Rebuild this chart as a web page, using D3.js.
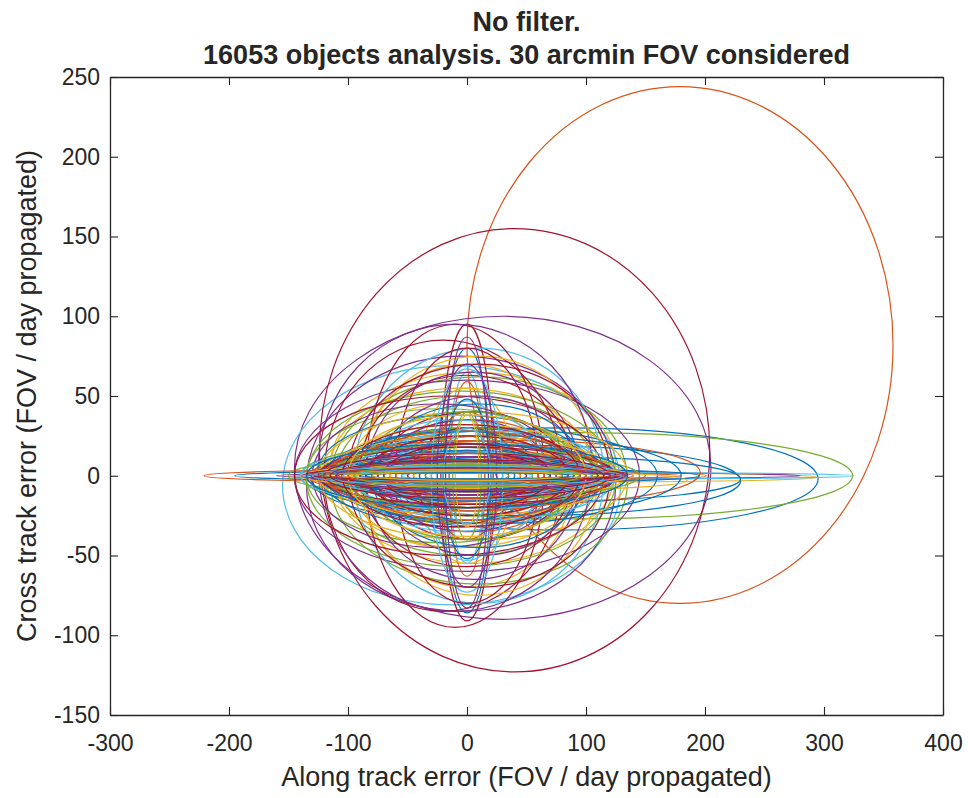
<!DOCTYPE html>
<html>
<head>
<meta charset="utf-8">
<script src="https://cdn.jsdelivr.net/npm/d3@7/dist/d3.min.js"></script>
<style>
  html, body { margin: 0; padding: 0; background: #fff; }
  svg { display: block; }
  text { font-family: "Liberation Sans", Arial, Helvetica, sans-serif; fill: #262626; }
</style>
</head>
<body>
<svg id="chart" width="968" height="798"></svg>
<script>
// ---- data (error ellipses: centre x/y, semi-axis x/y, in FOV/day units) ----
const titleLines = ["No filter.", "16053 objects analysis. 30 arcmin FOV considered"];
const xLabel = "Along track error (FOV / day propagated)";
const yLabel = "Cross track error (FOV / day propagated)";
const xTicks = [-300, -200, -100, 0, 100, 200, 300, 400];
const yTicks = [-150, -100, -50, 0, 50, 100, 150, 200, 250];

const ellCx = [
  82, 179, 5, 30, 92, -13, 40,
  50, -10, 70, 60, 0, 90, 0,
  0, 43, 0, -5, 10, 0, -20,
  60, 0, -5, 0, -20, 10, -10,
  -30, 5, 10, -10, -5, 20, 0,
  20, 0, -15, 5, 0, 0, 10,
  -10, -5, 0, -25, 15, -20, 0,
  30, 10, 5, 0, -10, 5, -15,
  0, -5, 0, 10, 0, 0, 5,
  -20, 0, 15, 0, 5, 0, 0,
  10, 20, -10, 0, 0, -10, 0,
  0, 0, 0, -15, 0, 15, 10,
  0, -10, 0, 5, 0, 0, -5,
  0, 0, 0, 0, -5, 0, 0,
  0, 0, 5, 0, 0, 0, 0,
  55, 0, 0, 0, 10, 0, 0,
  0, 30, 0, 0, 0, 0, 15,
  -5, 0, 35, 0, 0, 0, 0,
  0, -10, 0, 0, 10, 0, 0,
  -5, 0, 5, 0, 0, 0, 0,
  0, 0, 0, 5, 0, 10, 0,
  0, 0, 0, 0, 0, 0, -5,
  0, 5, 0, 0, 0, 0, 0,
  0, 0, 0, 0, 0, 0, 0,
  0, 0, 5, 0, -5, 0, 0,
  0, 0, 0, 0, 0, 0, 0
];
const ellCy = [
  -2, 82, 5, 5, 0, -6, 16,
  -3, 0, -1, 0, 0, 0, 2,
  -3, 2, 0, -5, -3, 5, 0,
  -2, -2, 5, 0, 0, 0, 0,
  0, 0, 0, 5, -2, 0, 0,
  0, 0, 0, 0, 3, -3, 0,
  3, 0, 0, 0, 0, 0, 3,
  0, 0, 0, 0, 0, 0, 0,
  0, 0, 0, 0, 0, 0, 0,
  0, 0, 0, 0, 0, 0, 0,
  0, 0, 0, 0, 0, 0, 0,
  0, 0, 0, 0, 0, 0, 0,
  0, 0, 0, 0, 0, 0, 0,
  0, 0, 2, 0, 0, 0, 0,
  0, 0, 0, 0, 0, 0, 0,
  0, 0, 0, 0, 0, 0, 0,
  0, 0, 0, 0, 0, 0, 0,
  0, 0, -3, 0, 0, 0, 0,
  0, 0, 0, 0, 0, 0, 0,
  0, 0, 0, 0, 0, 0, 0,
  0, 0, 0, 0, 0, 0, 0,
  0, 0, 0, 0, 0, 0, 0,
  -2, 0, 3, 0, 0, -3, 0,
  0, 0, 0, 2, 0, 0, 0,
  0, 1, 0, -1, 0, 0, 1,
  0, 0, 0, 0, 0, 0, 0
];
const ellRx = [
  213, 179, 120, 175, 232, 142, 164,
  180, 211, 225, 220, 110, 235, 22,
  20, 153, 90, 130, 125, 15, 100,
  170, 15, 110, 145, 115, 105, 75,
  165, 80, 100, 115, 130, 95, 60,
  140, 120, 85, 90, 95, 35, 110,
  115, 100, 40, 105, 85, 120, 90,
  150, 70, 130, 100, 140, 65, 130,
  125, 95, 55, 85, 60, 100, 80,
  110, 50, 120, 70, 105, 25, 115,
  90, 130, 100, 120, 75, 80, 45,
  70, 30, 85, 95, 40, 110, 100,
  60, 125, 65, 55, 90, 50, 70,
  100, 45, 110, 35, 120, 75, 130,
  40, 85, 75, 105, 55, 30, 95,
  140, 65, 95, 60, 80, 120, 50,
  115, 150, 45, 80, 35, 90, 120,
  75, 110, 150, 140, 100, 55, 105,
  130, 110, 125, 115, 135, 100, 125,
  105, 90, 70, 130, 115, 85, 110,
  95, 120, 60, 95, 70, 125, 85,
  80, 100, 140, 75, 95, 115, 100,
  20, 105, 10, 25, 12, 30, 120,
  135, 60, 100, 18, 110, 20, 70,
  120, 130, 110, 125, 115, 105, 135,
  90, 100, 80, 110, 95, 130, 115
];
const ellRy = [
  32, 162, 60, 95, 27, 75, 139,
  22, 4, 3, 2, 50, 2, 93,
  83, 20, 70, 80, 65, 60, 85,
  14, 61, 50, 60, 42, 80, 95,
  3, 35, 75, 90, 55, 30, 80,
  30, 8, 45, 65, 25, 50, 70,
  35, 15, 55, 45, 20, 18, 60,
  25, 25, 40, 30, 12, 40, 50,
  20, 10, 30, 50, 15, 12, 40,
  10, 20, 15, 35, 30, 25, 20,
  45, 6, 22, 25, 10, 35, 30,
  18, 40, 12, 15, 8, 28, 10,
  28, 12, 6, 22, 40, 10, 15,
  5, 12, 30, 16, 4, 20, 8,
  15, 3, 18, 6, 25, 6, 5,
  4, 9, 4, 10, 6, 3, 5,
  7, 2, 4, 3, 4, 8, 3,
  4, 5, 6, 4, 7, 3, 12,
  10, 18, 25, 8, 14, 22, 18,
  28, 6, 10, 12, 20, 15, 6,
  16, 22, 8, 20, 5, 9, 25,
  9, 28, 7, 12, 3, 14, 32,
  50, 4, 35, 70, 40, 70, 14,
  20, 14, 38, 85, 10, 30, 20,
  4, 3, 2, 5, 3, 4, 4,
  2, 6, 3, 9, 7, 6, 10
];

// MATLAB default colour order
const colorOrder = ["#0072BD", "#D95319", "#EDB120", "#7E2F8E", "#77AC30", "#4DBEEE", "#A2142F"];

// ---- layout ----
const svg = d3.select("#chart");
const margin = { left: 110, right: 25, top: 77, bottom: 83 };
const W = 968, H = 798;
const x = d3.scaleLinear().domain([-300, 400]).range([margin.left, W - margin.right]);
const y = d3.scaleLinear().domain([-150, 250]).range([H - margin.bottom, margin.top]);
const axisColor = "#262626";

svg.append("defs").append("clipPath").attr("id", "plotclip")
  .append("rect")
  .attr("x", x(-300)).attr("y", y(250))
  .attr("width", x(400) - x(-300)).attr("height", y(-150) - y(250));

// ellipses
const ellipses = ellCx.map((c, i) => ({ cx: c, cy: ellCy[i], rx: ellRx[i], ry: ellRy[i], i }));
svg.append("g").attr("clip-path", "url(#plotclip)")
  .selectAll("ellipse").data(ellipses).join("ellipse")
  .attr("cx", d => x(d.cx))
  .attr("cy", d => y(d.cy))
  .attr("rx", d => x(d.rx) - x(0))
  .attr("ry", d => y(0) - y(d.ry))
  .attr("fill", "none")
  .attr("stroke", d => colorOrder[d.i % colorOrder.length])
  .attr("stroke-width", 1.2);

// axes (ticks inward, on all four sides)
const tickLen = 8;
const fs = 23;
const fmt = d => String(d);
const gB = svg.append("g").attr("transform", `translate(0,${y(-150)})`)
  .call(d3.axisBottom(x).tickValues(xTicks).tickSizeInner(-tickLen).tickSizeOuter(0).tickPadding(20).tickFormat(fmt));
const gT = svg.append("g").attr("transform", `translate(0,${y(250)})`)
  .call(d3.axisTop(x).tickValues(xTicks).tickSizeInner(-tickLen).tickSizeOuter(0).tickFormat(""));
const gL = svg.append("g").attr("transform", `translate(${x(-300)},0)`)
  .call(d3.axisLeft(y).tickValues(yTicks).tickSizeInner(-tickLen).tickSizeOuter(0).tickPadding(10).tickFormat(fmt));
const gR = svg.append("g").attr("transform", `translate(${x(400)},0)`)
  .call(d3.axisRight(y).tickValues(yTicks).tickSizeInner(-tickLen).tickSizeOuter(0).tickFormat(""));

[gB, gT, gL, gR].forEach(g => {
  g.select(".domain").attr("stroke", axisColor).attr("stroke-width", 1.3);
  g.selectAll(".tick line").attr("stroke", axisColor).attr("stroke-width", 1.1);
  g.selectAll(".tick text").attr("fill", axisColor)
    .style("font-family", '"Liberation Sans", Arial, sans-serif').style("font-size", fs + "px");
});

// titles
const midX = (x(-300) + x(400)) / 2;
svg.append("text").attr("x", midX).attr("y", 31)
  .attr("text-anchor", "middle").style("font-size", "27px").style("font-weight", "bold")
  .attr("fill", "#000").text(titleLines[0]);
svg.append("text").attr("x", midX).attr("y", 64)
  .attr("text-anchor", "middle").style("font-size", "27px").style("font-weight", "bold")
  .attr("fill", "#000").text(titleLines[1]);

svg.append("text").attr("x", midX).attr("y", 786)
  .attr("text-anchor", "middle").style("font-size", "27px").text(xLabel);

svg.append("text")
  .attr("transform", `translate(36,${(y(-150) + y(250)) / 2}) rotate(-90)`)
  .attr("text-anchor", "middle").style("font-size", "27px").text(yLabel);
</script>
</body>
</html>
